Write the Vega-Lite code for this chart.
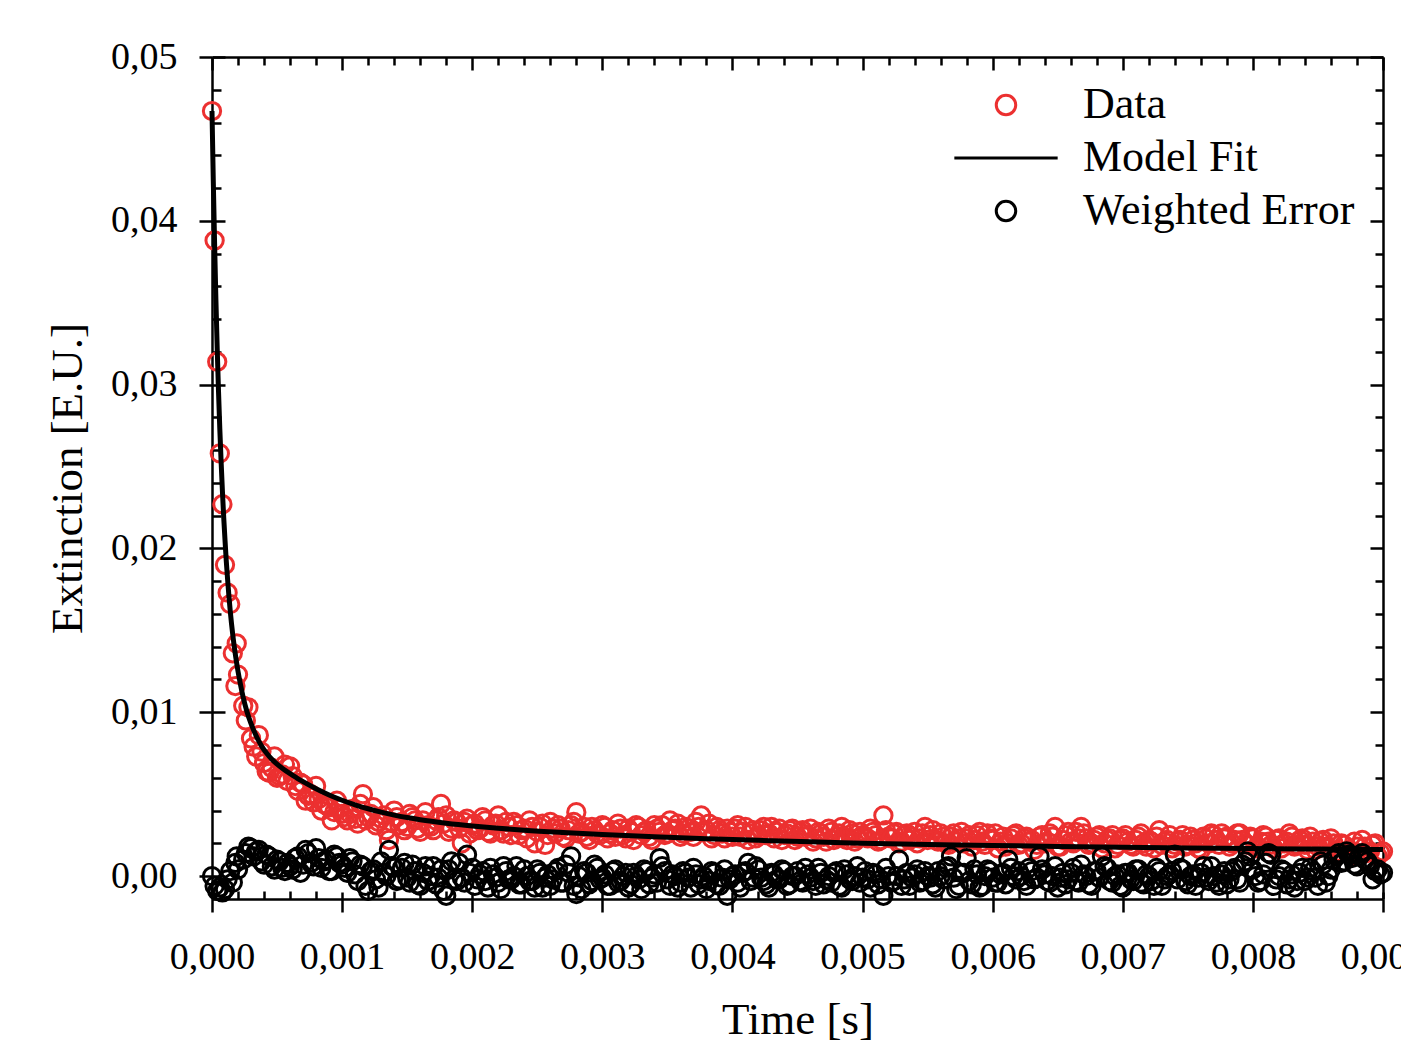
{
  "$schema": "https://vega.github.io/schema/vega-lite/v6.json",
  "width": 1171,
  "height": 842,
  "autosize": {"type": "none"},
  "padding": {"left": 212, "top": 57, "right": 18, "bottom": 147},
  "background": "white",
  "config": {
    "view": {"stroke": null},
    "font": "Liberation Serif",
    "axis": {
      "domainColor": "black", "tickColor": "black", "labelColor": "black", "titleColor": "black",
      "domainWidth": 2.5, "tickWidth": 2.5, "grid": false,
      "labelFont": "Liberation Serif", "titleFont": "Liberation Serif",
      "labelFontSize": 38, "titleFontSize": 45, "titleFontWeight": "normal",
      "labelFlush": false, "labelOverlap": false, "labelBound": false
    },
    "legend": {
      "title": null,
      "orient": "none",
      "legendX": 772,
      "legendY": 26,
      "padding": 0,
      "labelFont": "Liberation Serif",
      "labelFontSize": 44,
      "labelColor": "black",
      "labelLimit": 400,
      "symbolSize": 380,
      "symbolStrokeWidth": 3,
      "labelOffset": 55,
      "rowPadding": 9
    }
  },
  "datasets": {
    "pts": [
      {"t":0,"d":0.0467,"e":0},{"t":0.00002,"d":0.0388,"e":-0.0006},{"t":0.00004,"d":0.0314,"e":-0.0009},{"t":0.00006,"d":0.0258,"e":-0.0007},{"t":0.00008,"d":0.0227,"e":-0.001},{"t":0.0001,"d":0.019,"e":-0.0008},{"t":0.00012,"d":0.0173,"e":-0.0002},{"t":0.00014,"d":0.0166,"e":0.0003},{"t":0.00016,"d":0.0136,"e":-0.0004},{"t":0.00018,"d":0.0116,"e":0.0008},{"t":0.00019,"d":0.0142,"e":0.0012},{"t":0.0002,"d":0.0123,"e":0.0004},
      {"t":0.00024,"d":0.0104,"e":0.001},{"t":0.00028,"d":0.0103,"e":0.0018},{"t":0.00032,"d":0.0079,"e":0.0012},{"t":0.00036,"d":0.0086,"e":0.0016},{"t":0.0004,"d":0.0069,"e":0.0007},{"t":0.00044,"d":0.0063,"e":0.0012},{"t":0.00048,"d":0.0073,"e":0.0004},{"t":0.00052,"d":0.0061,"e":0.0009},{"t":0.00056,"d":0.0068,"e":0.0003},{"t":0.0006,"d":0.0067,"e":0.0006},
      {"t":0.00064,"d":0.0055,"e":0.0011},{"t":0.00068,"d":0.0057,"e":0.0002},{"t":0.00072,"d":0.0046,"e":0.0016},{"t":0.00076,"d":0.005,"e":0.0008},{"t":0.0008,"d":0.0055,"e":0.0017},{"t":0.00084,"d":0.004,"e":0.0005},{"t":0.00088,"d":0.0043,"e":0.001},{"t":0.00092,"d":0.0034,"e":0.0003},{"t":0.00096,"d":0.0046,"e":0.0012},{"t":0.001,"d":0.0038,"e":0.0007},
      {"t":0.00104,"d":0.0034,"e":0.0002},{"t":0.00108,"d":0.0041,"e":0.0009},{"t":0.00112,"d":0.0032,"e":-0.0003},{"t":0.00116,"d":0.005,"e":0.0006},{"t":0.0012,"d":0.0036,"e":-0.0009},{"t":0.00124,"d":0.0042,"e":0.0004},{"t":0.00128,"d":0.0033,"e":-0.0007},{"t":0.00132,"d":0.0037,"e":0.0002},{"t":0.00136,"d":0.0022,"e":0.0016},{"t":0.0014,"d":0.004,"e":0.0005},
      {"t":0.00144,"d":0.0031,"e":-0.0002},{"t":0.00148,"d":0.0028,"e":0.0008},{"t":0.00152,"d":0.0038,"e":-0.0004},{"t":0.00156,"d":0.0034,"e":0.0003},{"t":0.0016,"d":0.0027,"e":-0.0006},{"t":0.00164,"d":0.0039,"e":0.0006},{"t":0.00168,"d":0.003,"e":0},{"t":0.00172,"d":0.0034,"e":-0.0005},{"t":0.00176,"d":0.0044,"e":0.0004},{"t":0.0018,"d":0.0037,"e":-0.0012},
      {"t":0.00184,"d":0.0029,"e":0.0009},{"t":0.00188,"d":0.0033,"e":-0.0003},{"t":0.00192,"d":0.002,"e":-0.0001},{"t":0.00196,"d":0.0035,"e":0.0013},{"t":0.002,"d":0.0031,"e":0.0005},{"t":0.00204,"d":0.0028,"e":-0.0002},{"t":0.00208,"d":0.0036,"e":0.0003},{"t":0.00212,"d":0.0027,"e":-0.0007},{"t":0.00216,"d":0.0031,"e":0.0001},{"t":0.0022,"d":0.0037,"e":-0.0004},
      {"t":0.00224,"d":0.0026,"e":0.0006},{"t":0.00228,"d":0.003,"e":-0.0002},{"t":0.00232,"d":0.0033,"e":0},{"t":0.00236,"d":0.0025,"e":-0.0005},{"t":0.0024,"d":0.0029,"e":0.0004},{"t":0.00244,"d":0.0034,"e":-0.0003},{"t":0.00248,"d":0.002,"e":-0.0007},{"t":0.00252,"d":0.003,"e":0.0002},{"t":0.00256,"d":0.0019,"e":-0.0001},{"t":0.0026,"d":0.0033,"e":-0.0006},
      {"t":0.00264,"d":0.0026,"e":0.0003},{"t":0.00268,"d":0.0029,"e":-0.0004},{"t":0.00272,"d":0.0023,"e":0.0007},{"t":0.00276,"d":0.0031,"e":0.0012},{"t":0.0028,"d":0.0039,"e":-0.0011},{"t":0.00284,"d":0.0027,"e":-0.0008},{"t":0.00288,"d":0.0024,"e":0.0002},{"t":0.00292,"d":0.003,"e":-0.0003},{"t":0.00296,"d":0.0026,"e":0.0005},{"t":0.003,"d":0.0031,"e":-0.0001},
      {"t":0.00304,"d":0.0023,"e":-0.0006},{"t":0.00308,"d":0.0028,"e":0.0003},{"t":0.00312,"d":0.0032,"e":-0.0004},{"t":0.00316,"d":0.0025,"e":0},{"t":0.0032,"d":0.0029,"e":-0.0007},{"t":0.00324,"d":0.0022,"e":0.0002},{"t":0.00328,"d":0.003,"e":-0.0002},{"t":0.00332,"d":0.0027,"e":0.0004},{"t":0.00336,"d":0.0024,"e":-0.0005},{"t":0.0034,"d":0.0031,"e":0.0001},
      {"t":0.00344,"d":0.0027,"e":0.0011},{"t":0.00348,"d":0.0025,"e":0.0003},{"t":0.00352,"d":0.0034,"e":-0.0006},{"t":0.00356,"d":0.0029,"e":0},{"t":0.0036,"d":0.0024,"e":-0.0004},{"t":0.00364,"d":0.003,"e":0.0002},{"t":0.00368,"d":0.0027,"e":-0.0007},{"t":0.00372,"d":0.0033,"e":0.0001},{"t":0.00376,"d":0.0037,"e":-0.0002},{"t":0.0038,"d":0.0028,"e":-0.0008},
      {"t":0.00384,"d":0.0023,"e":0.0003},{"t":0.00388,"d":0.003,"e":-0.0005},{"t":0.00392,"d":0.0026,"e":-0.0001},{"t":0.00396,"d":0.0029,"e":-0.0012},{"t":0.004,"d":0.0024,"e":0},{"t":0.00404,"d":0.0031,"e":-0.0004},{"t":0.00408,"d":0.0027,"e":0.0002},{"t":0.00412,"d":0.0022,"e":0.0008},{"t":0.00416,"d":0.0028,"e":-0.0001},{"t":0.0042,"d":0.0025,"e":0.0004},
      {"t":0.00424,"d":0.003,"e":-0.0003},{"t":0.00428,"d":0.0026,"e":-0.0007},{"t":0.00432,"d":0.0023,"e":0.0001},{"t":0.00436,"d":0.0029,"e":-0.0002},{"t":0.0044,"d":0.0025,"e":0.0003},{"t":0.00444,"d":0.0028,"e":-0.0005},{"t":0.00448,"d":0.0022,"e":0},{"t":0.00452,"d":0.0027,"e":-0.0003},{"t":0.00456,"d":0.0024,"e":0.0005},{"t":0.0046,"d":0.0029,"e":-0.0001},
      {"t":0.00464,"d":0.0023,"e":-0.0006},{"t":0.00468,"d":0.0026,"e":0.0002},{"t":0.00472,"d":0.0021,"e":-0.0002},{"t":0.00476,"d":0.0027,"e":-0.0004},{"t":0.0048,"d":0.0024,"e":0.0003},{"t":0.00484,"d":0.003,"e":-0.0007},{"t":0.00488,"d":0.0022,"e":0.0001},{"t":0.00492,"d":0.0026,"e":-0.0003},{"t":0.00496,"d":0.0023,"e":0.0006},{"t":0.005,"d":0.0025,"e":-0.0001},
      {"t":0.00504,"d":0.0023,"e":-0.0002},{"t":0.00508,"d":0.0027,"e":0.0002},{"t":0.00512,"d":0.0021,"e":-0.0005},{"t":0.00516,"d":0.0037,"e":-0.0012},{"t":0.0052,"d":0.0024,"e":0},{"t":0.00524,"d":0.0026,"e":-0.0003},{"t":0.00528,"d":0.002,"e":0.001},{"t":0.00532,"d":0.0025,"e":-0.0002},{"t":0.00536,"d":0.0022,"e":-0.0006},{"t":0.0054,"d":0.0027,"e":0.0001},
      {"t":0.00544,"d":0.0023,"e":-0.0004},{"t":0.00548,"d":0.003,"e":0.0003},{"t":0.00552,"d":0.0025,"e":-0.0001},{"t":0.00556,"d":0.0022,"e":-0.0007},{"t":0.0056,"d":0.0026,"e":0},{"t":0.00564,"d":0.002,"e":0.0005},{"t":0.00568,"d":0.0024,"e":0.0012},{"t":0.00572,"d":0.0021,"e":-0.0008},{"t":0.00576,"d":0.0027,"e":0.0002},{"t":0.0058,"d":0.0023,"e":0.0011},
      {"t":0.00584,"d":0.0018,"e":-0.0005},{"t":0.00588,"d":0.0025,"e":0.0001},{"t":0.00592,"d":0.0021,"e":-0.0006},{"t":0.00596,"d":0.0026,"e":0.0004},{"t":0.006,"d":0.0022,"e":-0.0001},{"t":0.00604,"d":0.0017,"e":-0.0004},{"t":0.00608,"d":0.0024,"e":0.0002},{"t":0.00612,"d":0.002,"e":0.001},{"t":0.00616,"d":0.0025,"e":0},{"t":0.0062,"d":0.0019,"e":0.0003},
      {"t":0.00624,"d":0.0023,"e":-0.0003},{"t":0.00628,"d":0.0021,"e":0.0005},{"t":0.00632,"d":0.0016,"e":-0.0002},{"t":0.00636,"d":0.0024,"e":0.0012},{"t":0.0064,"d":0.002,"e":0.0001},{"t":0.00644,"d":0.0026,"e":-0.0004},{"t":0.00648,"d":0.003,"e":0.0006},{"t":0.00652,"d":0.0018,"e":-0.0001},{"t":0.00656,"d":0.0025,"e":-0.0005},{"t":0.0066,"d":0.0021,"e":0.0002},
      {"t":0.00664,"d":0.0027,"e":-0.0003},{"t":0.00668,"d":0.003,"e":0.0007},{"t":0.00672,"d":0.0023,"e":0},{"t":0.00676,"d":0.002,"e":-0.0006},{"t":0.0068,"d":0.0024,"e":0.0003},{"t":0.00684,"d":0.0017,"e":0.0012},{"t":0.00688,"d":0.0022,"e":0.0005},{"t":0.00692,"d":0.0025,"e":-0.0004},{"t":0.00696,"d":0.0019,"e":0.0001},{"t":0.007,"d":0.0023,"e":-0.0007},
      {"t":0.00704,"d":0.0021,"e":0.0002},{"t":0.00708,"d":0.0018,"e":-0.0003},{"t":0.00712,"d":0.0024,"e":0.0004},{"t":0.00716,"d":0.002,"e":-0.0005},{"t":0.0072,"d":0.0022,"e":0},{"t":0.00724,"d":0.0017,"e":-0.0006},{"t":0.00728,"d":0.0028,"e":0.0003},{"t":0.00732,"d":0.0021,"e":-0.0002},{"t":0.00736,"d":0.0025,"e":0.0001},{"t":0.0074,"d":0.0019,"e":0.0013},
      {"t":0.00744,"d":0.0022,"e":0.0005},{"t":0.00748,"d":0.0018,"e":-0.0003},{"t":0.00752,"d":0.0024,"e":0},{"t":0.00756,"d":0.002,"e":-0.0006},{"t":0.0076,"d":0.0016,"e":0.0002},{"t":0.00764,"d":0.0023,"e":-0.0001},{"t":0.00768,"d":0.0026,"e":0.0006},{"t":0.00772,"d":0.0022,"e":-0.0004},{"t":0.00776,"d":0.0026,"e":0.0001},{"t":0.0078,"d":0.0024,"e":-0.0005},
      {"t":0.00784,"d":0.002,"e":0.0003},{"t":0.00788,"d":0.0026,"e":-0.0002},{"t":0.00792,"d":0.0022,"e":0.0007},{"t":0.00796,"d":0.0019,"e":0.0015},{"t":0.008,"d":0.0023,"e":0.0004},{"t":0.00804,"d":0.0018,"e":-0.0004},{"t":0.00808,"d":0.0025,"e":0.0001},{"t":0.00812,"d":0.0021,"e":0.0014},{"t":0.00816,"d":0.0017,"e":-0.0006},{"t":0.0082,"d":0.0023,"e":0},
      {"t":0.00824,"d":0.002,"e":0.0003},{"t":0.00828,"d":0.0026,"e":-0.0002},{"t":0.00832,"d":0.0018,"e":-0.0007},{"t":0.00836,"d":0.0022,"e":0.0002},{"t":0.0084,"d":0.0019,"e":-0.0003},{"t":0.00844,"d":0.0024,"e":0.0005},{"t":0.00848,"d":0.0016,"e":-0.0001},{"t":0.00852,"d":0.0021,"e":0.0009},{"t":0.00856,"d":0.0018,"e":-0.0004},{"t":0.0086,"d":0.0023,"e":0.0004},
      {"t":0.00864,"d":0.0013,"e":0.0012},{"t":0.00868,"d":0.002,"e":0.0008},{"t":0.00872,"d":0.0015,"e":0.0015},{"t":0.00876,"d":0.0012,"e":0.0011},{"t":0.0088,"d":0.0018,"e":0.0006},{"t":0.00884,"d":0.0022,"e":0.0014},{"t":0.00888,"d":0.0014,"e":0.0009},{"t":0.00892,"d":0.0019,"e":-0.0002},{"t":0.00896,"d":0.0012,"e":0.0004},{"t":0.009,"d":0.0015,"e":0.0002},
      {"t":0.00026,"d":0.0095,"e":0.0014},{"t":0.0003,"d":0.0084,"e":0.0017},{"t":0.00034,"d":0.0073,"e":0.0015},{"t":0.00038,"d":0.0076,"e":0.0009},{"t":0.00042,"d":0.0064,"e":0.0013},{"t":0.00046,"d":0.0066,"e":0.0006},{"t":0.0005,"d":0.006,"e":0.001},{"t":0.00054,"d":0.0062,"e":0.0005},
      {"t":0.00058,"d":0.0058,"e":0.0008},{"t":0.00062,"d":0.0061,"e":0.0004},{"t":0.00066,"d":0.0052,"e":0.0012},{"t":0.0007,"d":0.0056,"e":0.0007},{"t":0.00074,"d":0.0049,"e":0.0014},{"t":0.00078,"d":0.0045,"e":0.0006},{"t":0.00082,"d":0.0047,"e":0.0011},{"t":0.00086,"d":0.0044,"e":0.0009},{"t":0.0009,"d":0.0042,"e":0.0003},{"t":0.00094,"d":0.0039,"e":0.0013},
      {"t":0.00098,"d":0.0041,"e":0.0008},{"t":0.00102,"d":0.0036,"e":0.0005},{"t":0.00106,"d":0.0038,"e":0.0011},{"t":0.0011,"d":0.0035,"e":0.0001},{"t":0.00114,"d":0.0044,"e":0.0007},{"t":0.00118,"d":0.0034,"e":-0.0006},{"t":0.00122,"d":0.0038,"e":0.0003},{"t":0.00126,"d":0.0031,"e":-0.0002},{"t":0.0013,"d":0.0035,"e":0.0009},{"t":0.00134,"d":0.0028,"e":0},{"t":0.00138,"d":0.0033,"e":0.0006},
      {"t":0.00142,"d":0.0036,"e":-0.0003},{"t":0.00146,"d":0.0033,"e":0.0005},{"t":0.0015,"d":0.003,"e":-0.0001},{"t":0.00154,"d":0.0036,"e":0.0007},{"t":0.00158,"d":0.0029,"e":-0.0005},{"t":0.00162,"d":0.0034,"e":0.0002},{"t":0.00166,"d":0.0031,"e":-0.0003},{"t":0.0017,"d":0.0028,"e":0.0006},{"t":0.00174,"d":0.0036,"e":-0.0001},{"t":0.00178,"d":0.0032,"e":-0.0009},
      {"t":0.00182,"d":0.0027,"e":0.0004},{"t":0.00186,"d":0.0034,"e":-0.0002},{"t":0.0019,"d":0.0029,"e":0.0008},{"t":0.00194,"d":0.0033,"e":-0.0004},{"t":0.00198,"d":0.0026,"e":0.0002},{"t":0.00202,"d":0.0032,"e":-0.0006},{"t":0.00206,"d":0.0029,"e":0.0001},{"t":0.0021,"d":0.0034,"e":-0.0003},{"t":0.00214,"d":0.0026,"e":0.0005},{"t":0.00218,"d":0.0032,"e":-0.0001},
      {"t":0.00222,"d":0.0028,"e":-0.0008},{"t":0.00226,"d":0.0033,"e":0.0003},{"t":0.0023,"d":0.0025,"e":-0.0002},{"t":0.00234,"d":0.0031,"e":0.0006},{"t":0.00238,"d":0.0028,"e":-0.0005},{"t":0.00242,"d":0.0023,"e":0},{"t":0.00246,"d":0.003,"e":-0.0003},{"t":0.0025,"d":0.0027,"e":0.0004},{"t":0.00254,"d":0.0032,"e":-0.0007},{"t":0.00258,"d":0.0025,"e":0.0001},
      {"t":0.00262,"d":0.0029,"e":-0.0002},{"t":0.00266,"d":0.0031,"e":0.0005},{"t":0.0027,"d":0.0024,"e":-0.0004},{"t":0.00274,"d":0.0028,"e":0.0002},{"t":0.00278,"d":0.0033,"e":-0.0006},{"t":0.00282,"d":0.0026,"e":0},{"t":0.00286,"d":0.003,"e":0.0003},{"t":0.0029,"d":0.0022,"e":-0.0005},{"t":0.00294,"d":0.0028,"e":0.0007},{"t":0.00298,"d":0.0025,"e":-0.0002},
      {"t":0.00302,"d":0.003,"e":0.0001},{"t":0.00306,"d":0.0026,"e":-0.0006},{"t":0.0031,"d":0.0024,"e":0.0004},{"t":0.00314,"d":0.0029,"e":-0.0003},{"t":0.00318,"d":0.0023,"e":0.0002},{"t":0.00322,"d":0.0027,"e":-0.0005},{"t":0.00326,"d":0.0031,"e":0},{"t":0.0033,"d":0.0025,"e":-0.0008},{"t":0.00334,"d":0.0028,"e":0.0003},{"t":0.00338,"d":0.0022,"e":-0.0001},
      {"t":0.00342,"d":0.0029,"e":-0.0004},{"t":0.00346,"d":0.0031,"e":0.0006},{"t":0.0035,"d":0.0026,"e":-0.0002},{"t":0.00354,"d":0.0028,"e":0.0001},{"t":0.00358,"d":0.0032,"e":-0.0007},{"t":0.00362,"d":0.0026,"e":0.0003},{"t":0.00366,"d":0.0029,"e":-0.0001},{"t":0.0037,"d":0.0024,"e":0.0005},{"t":0.00374,"d":0.003,"e":-0.0005},{"t":0.00378,"d":0.0027,"e":0},
      {"t":0.00382,"d":0.0032,"e":-0.0003},{"t":0.00386,"d":0.0025,"e":0.0002},{"t":0.0039,"d":0.0028,"e":-0.0006},{"t":0.00394,"d":0.0023,"e":0.0004},{"t":0.00398,"d":0.0027,"e":-0.0002},{"t":0.00402,"d":0.0029,"e":0.0001},{"t":0.00406,"d":0.0024,"e":-0.0007},{"t":0.0041,"d":0.003,"e":0.0003},{"t":0.00414,"d":0.0026,"e":-0.0003},{"t":0.00418,"d":0.0023,"e":0.0006},
      {"t":0.00422,"d":0.0028,"e":-0.0001},{"t":0.00426,"d":0.0025,"e":-0.0005},{"t":0.0043,"d":0.003,"e":0.0002},{"t":0.00434,"d":0.0027,"e":-0.0002},{"t":0.00438,"d":0.0022,"e":0.0004},{"t":0.00442,"d":0.0026,"e":-0.0006},{"t":0.00446,"d":0.0029,"e":0},{"t":0.0045,"d":0.0024,"e":0.0003},{"t":0.00454,"d":0.0028,"e":-0.0004},{"t":0.00458,"d":0.0025,"e":0.0001},
      {"t":0.00462,"d":0.0021,"e":-0.0003},{"t":0.00466,"d":0.0027,"e":0.0005},{"t":0.0047,"d":0.0024,"e":-0.0005},{"t":0.00474,"d":0.0029,"e":0},{"t":0.00478,"d":0.0022,"e":0.0002},{"t":0.00482,"d":0.0026,"e":-0.0006},{"t":0.00486,"d":0.0024,"e":0.0004},{"t":0.0049,"d":0.0028,"e":-0.0002},{"t":0.00494,"d":0.0021,"e":0},{"t":0.00498,"d":0.0027,"e":-0.0004},
      {"t":0.00502,"d":0.0024,"e":0.0003},{"t":0.00506,"d":0.0029,"e":-0.0007},{"t":0.0051,"d":0.0025,"e":0.0001},{"t":0.00514,"d":0.0022,"e":-0.0002},{"t":0.00518,"d":0.0028,"e":0.0005},{"t":0.00522,"d":0.0023,"e":-0.0004},{"t":0.00526,"d":0.0027,"e":0},{"t":0.0053,"d":0.0021,"e":-0.0006},{"t":0.00534,"d":0.0026,"e":0.0002},{"t":0.00538,"d":0.0024,"e":-0.0001},
      {"t":0.00542,"d":0.002,"e":0.0004},{"t":0.00546,"d":0.0026,"e":-0.0003},{"t":0.0055,"d":0.0022,"e":0},{"t":0.00554,"d":0.0028,"e":-0.0005},{"t":0.00558,"d":0.0021,"e":0.0003},{"t":0.00562,"d":0.0024,"e":-0.0002},{"t":0.00566,"d":0.0019,"e":0.0006},{"t":0.0057,"d":0.0026,"e":-0.0001},{"t":0.00574,"d":0.0023,"e":-0.0006},{"t":0.00578,"d":0.002,"e":0.0002},
      {"t":0.00582,"d":0.0025,"e":-0.0003},{"t":0.00586,"d":0.0022,"e":0.0004},{"t":0.0059,"d":0.0027,"e":-0.0007},{"t":0.00594,"d":0.0019,"e":0},{"t":0.00598,"d":0.0023,"e":0.0003},{"t":0.00602,"d":0.0026,"e":-0.0004},{"t":0.00606,"d":0.0021,"e":0.0001},{"t":0.0061,"d":0.0018,"e":-0.0005},{"t":0.00614,"d":0.0023,"e":0.0005},{"t":0.00618,"d":0.0026,"e":-0.0002},
      {"t":0.00622,"d":0.002,"e":0},{"t":0.00626,"d":0.0024,"e":-0.0006},{"t":0.0063,"d":0.0022,"e":0.0003},{"t":0.00634,"d":0.0019,"e":-0.0001},{"t":0.00638,"d":0.0025,"e":0.0004},{"t":0.00642,"d":0.0021,"e":-0.0003},{"t":0.00646,"d":0.0024,"e":0},{"t":0.0065,"d":0.0018,"e":-0.0007},{"t":0.00654,"d":0.0022,"e":0.0002},{"t":0.00658,"d":0.0027,"e":-0.0002},
      {"t":0.00662,"d":0.002,"e":0.0005},{"t":0.00666,"d":0.0023,"e":-0.0004},{"t":0.0067,"d":0.0026,"e":0.0001},{"t":0.00674,"d":0.0019,"e":-0.0005},{"t":0.00678,"d":0.0022,"e":0.0003},{"t":0.00682,"d":0.0025,"e":-0.0001},{"t":0.00686,"d":0.002,"e":0.0006},{"t":0.0069,"d":0.0023,"e":-0.0003},{"t":0.00694,"d":0.0017,"e":0},{"t":0.00698,"d":0.0022,"e":-0.0006},
      {"t":0.00702,"d":0.0025,"e":0.0002},{"t":0.00706,"d":0.0019,"e":-0.0002},{"t":0.0071,"d":0.0022,"e":0.0004},{"t":0.00714,"d":0.0026,"e":-0.0004},{"t":0.00718,"d":0.0018,"e":0.0001},{"t":0.00722,"d":0.0021,"e":-0.0003},{"t":0.00726,"d":0.0024,"e":0.0005},{"t":0.0073,"d":0.0019,"e":-0.0006},{"t":0.00734,"d":0.0022,"e":0},{"t":0.00738,"d":0.0017,"e":0.0003},
      {"t":0.00742,"d":0.0021,"e":-0.0002},{"t":0.00746,"d":0.0025,"e":0.0004},{"t":0.0075,"d":0.0019,"e":-0.0005},{"t":0.00754,"d":0.0022,"e":0.0001},{"t":0.00758,"d":0.0017,"e":-0.0001},{"t":0.00762,"d":0.0024,"e":0.0006},{"t":0.00766,"d":0.002,"e":-0.0003},{"t":0.0077,"d":0.0025,"e":0},{"t":0.00774,"d":0.0019,"e":-0.0006},{"t":0.00778,"d":0.0023,"e":0.0003},
      {"t":0.00782,"d":0.0018,"e":-0.0002},{"t":0.00786,"d":0.0022,"e":0.0005},{"t":0.0079,"d":0.0026,"e":-0.0004},{"t":0.00794,"d":0.002,"e":0.0009},{"t":0.00798,"d":0.0024,"e":0.0012},{"t":0.00802,"d":0.0017,"e":0},{"t":0.00806,"d":0.0021,"e":-0.0003},{"t":0.0081,"d":0.0024,"e":0.0008},{"t":0.00814,"d":0.0019,"e":0.0013},{"t":0.00818,"d":0.0022,"e":-0.0002},
      {"t":0.00822,"d":0.0017,"e":0.0004},{"t":0.00826,"d":0.0021,"e":-0.0005},{"t":0.0083,"d":0.0024,"e":0.0001},{"t":0.00834,"d":0.0019,"e":-0.0003},{"t":0.00838,"d":0.0023,"e":0.0005},{"t":0.00842,"d":0.0016,"e":-0.0001},{"t":0.00846,"d":0.0021,"e":0.0003},{"t":0.0085,"d":0.0018,"e":-0.0006},{"t":0.00854,"d":0.0022,"e":0.0007},{"t":0.00858,"d":0.0017,"e":0},
      {"t":0.00862,"d":0.002,"e":0.001},{"t":0.00866,"d":0.0015,"e":0.0014},{"t":0.0087,"d":0.0019,"e":0.0009},{"t":0.00874,"d":0.0016,"e":0.0013},{"t":0.00878,"d":0.0021,"e":0.0007},{"t":0.00882,"d":0.0014,"e":0.0012},{"t":0.00886,"d":0.0018,"e":0.001},{"t":0.0089,"d":0.0015,"e":0.0006},{"t":0.00894,"d":0.002,"e":0.0003},{"t":0.00898,"d":0.0014,"e":0.0001}
    ],
    "fit": [
      {"t":0,"f":0.0467},{"t":0.00001,"f":0.0424},{"t":0.00002,"f":0.0386},{"t":0.00003,"f":0.0352},{"t":0.00004,"f":0.0322},{"t":0.00005,"f":0.0296},{"t":0.00006,"f":0.0273},{"t":0.00007,"f":0.0253},{"t":0.00008,"f":0.0235},{"t":0.00009,"f":0.0219},{"t":0.0001,"f":0.0205},{"t":0.00011,"f":0.0192},{"t":0.00012,"f":0.0181},{"t":0.00013,"f":0.0171},{"t":0.00014,"f":0.0162},{"t":0.00015,"f":0.0154},{"t":0.00016,"f":0.0147},{"t":0.00018,"f":0.0135},{"t":0.0002,"f":0.0125},{"t":0.00022,"f":0.01165},{"t":0.00024,"f":0.0109},{"t":0.00027,"f":0.01},{"t":0.0003,"f":0.0093},{"t":0.00034,"f":0.00855},{"t":0.00038,"f":0.00795},{"t":0.00042,"f":0.0075},{"t":0.00046,"f":0.00713},{"t":0.0005,"f":0.00683},{"t":0.00055,"f":0.00652},{"t":0.0006,"f":0.00625},{"t":0.00065,"f":0.006},{"t":0.0007,"f":0.00576},{"t":0.0008,"f":0.00533},{"t":0.0009,"f":0.00495},{"t":0.001,"f":0.00463},{"t":0.0011,"f":0.00435},{"t":0.0012,"f":0.00411},{"t":0.0013,"f":0.0039},{"t":0.0014,"f":0.00372},{"t":0.0015,"f":0.00357},{"t":0.0016,"f":0.00344},{"t":0.0018,"f":0.00323},{"t":0.002,"f":0.00306},{"t":0.0022,"f":0.00292},{"t":0.0024,"f":0.0028},{"t":0.0027,"f":0.00266},{"t":0.003,"f":0.00254},{"t":0.0034,"f":0.0024},{"t":0.0038,"f":0.00228},{"t":0.0042,"f":0.00218},{"t":0.0046,"f":0.00209},{"t":0.005,"f":0.00201},{"t":0.0054,"f":0.00194},{"t":0.006,"f":0.00187},{"t":0.0065,"f":0.00181},{"t":0.007,"f":0.00176},{"t":0.0075,"f":0.00172},{"t":0.008,"f":0.00168},{"t":0.0085,"f":0.00165},{"t":0.009,"f":0.00162}
    ]
  },
  "layer": [
    {
      "data": {"name": "pts"},
      "mark": {"type": "point", "filled": false, "size": 300, "strokeWidth": 3, "opacity": 1},
      "encoding": {
        "x": {
          "field": "t", "type": "quantitative",
          "scale": {"domain": [0, 0.009], "nice": false, "zero": false},
          "axis": {
            "orient": "bottom",
            "values": [0,0.0002,0.0004,0.0006,0.0008,0.001,0.0012,0.0014,0.0016,0.0018,0.002,0.0022,0.0024,0.0026,0.0028,0.003,0.0032,0.0034,0.0036,0.0038,0.004,0.0042,0.0044,0.0046,0.0048,0.005,0.0052,0.0054,0.0056,0.0058,0.006,0.0062,0.0064,0.0066,0.0068,0.007,0.0072,0.0074,0.0076,0.0078,0.008,0.0082,0.0084,0.0086,0.0088,0.009],
            "labelExpr": "abs(datum.value*1000-round(datum.value*1000))<0.01 ? replace(format(datum.value,'.3f'),'.',',') : ''",
            "tickSize": {"condition": {"test": "abs(datum.value*1000-round(datum.value*1000))<0.01", "value": 13}, "value": -8},
            "labelPadding": 26,
            "title": "Time [s]",
            "titlePadding": 21
          }
        },
        "y": {
          "field": "d", "type": "quantitative",
          "scale": {"domain": [-0.0014, 0.05], "nice": false, "zero": false},
          "axis": {
            "orient": "left",
            "values": [0,0.002,0.004,0.006,0.008,0.01,0.012,0.014,0.016,0.018,0.02,0.022,0.024,0.026,0.028,0.03,0.032,0.034,0.036,0.038,0.04,0.042,0.044,0.046,0.048,0.05],
            "labelExpr": "abs(datum.value*100-round(datum.value*100))<0.01 ? replace(format(datum.value,'.2f'),'.',',') : ''",
            "tickSize": {"condition": {"test": "abs(datum.value*100-round(datum.value*100))<0.01", "value": 13}, "value": -9},
            "labelPadding": 22,
            "title": "Extinction [E.U.]",
            "titlePadding": 20
          }
        },
        "color": {
          "datum": "Data", "type": "nominal",
          "scale": {"domain": ["Data", "Model Fit", "Weighted Error"], "range": ["#ec3030", "#000000", "#000000"]},
          "legend": {
            "encode": {
              "symbols": {
                "strokeWidth": {"condition": {"test": "datum.value === 'Model Fit'", "value": 5}, "value": 3}
              }
            }
          }
        },
        "shape": {
          "datum": "Data", "type": "nominal",
          "scale": {"domain": ["Data", "Model Fit", "Weighted Error"], "range": ["circle", "M-5.3,0H5.3", "circle"]}
        }
      }
    },
    {
      "data": {"name": "fit"},
      "mark": {"type": "line", "strokeWidth": 5, "interpolate": "monotone"},
      "encoding": {
        "x": {
          "field": "t", "type": "quantitative",
          "axis": {"orient": "bottom", "values": [0,0.001,0.002,0.003,0.004,0.005,0.006,0.007,0.008,0.009], "tickSize": -7, "labels": false, "domain": false, "title": null}
        },
        "y": {
          "field": "f", "type": "quantitative",
          "axis": {"orient": "left", "values": [0,0.01,0.02,0.03,0.04,0.05], "tickSize": -13, "labels": false, "domain": false, "title": null}
        },
        "color": {"datum": "Model Fit", "type": "nominal"}
      }
    },
    {
      "data": {"name": "pts"},
      "mark": {"type": "point", "filled": false, "size": 300, "strokeWidth": 3, "opacity": 1},
      "encoding": {
        "x": {
          "field": "t", "type": "quantitative",
          "axis": {
            "orient": "top",
            "values": [0,0.0002,0.0004,0.0006,0.0008,0.001,0.0012,0.0014,0.0016,0.0018,0.002,0.0022,0.0024,0.0026,0.0028,0.003,0.0032,0.0034,0.0036,0.0038,0.004,0.0042,0.0044,0.0046,0.0048,0.005,0.0052,0.0054,0.0056,0.0058,0.006,0.0062,0.0064,0.0066,0.0068,0.007,0.0072,0.0074,0.0076,0.0078,0.008,0.0082,0.0084,0.0086,0.0088,0.009],
            "tickSize": {"condition": {"test": "abs(datum.value*1000-round(datum.value*1000))<0.01", "value": -13}, "value": -8},
            "labels": false, "title": null
          }
        },
        "y": {
          "field": "e", "type": "quantitative",
          "axis": {
            "orient": "right",
            "values": [0,0.002,0.004,0.006,0.008,0.01,0.012,0.014,0.016,0.018,0.02,0.022,0.024,0.026,0.028,0.03,0.032,0.034,0.036,0.038,0.04,0.042,0.044,0.046,0.048,0.05],
            "tickSize": {"condition": {"test": "abs(datum.value*100-round(datum.value*100))<0.01", "value": -13}, "value": -8},
            "labels": false, "title": null
          }
        },
        "color": {"datum": "Weighted Error", "type": "nominal"},
        "shape": {"datum": "Weighted Error", "type": "nominal"}
      }
    }
  ],
  "resolve": {"axis": {"x": "independent", "y": "independent"}}
}
